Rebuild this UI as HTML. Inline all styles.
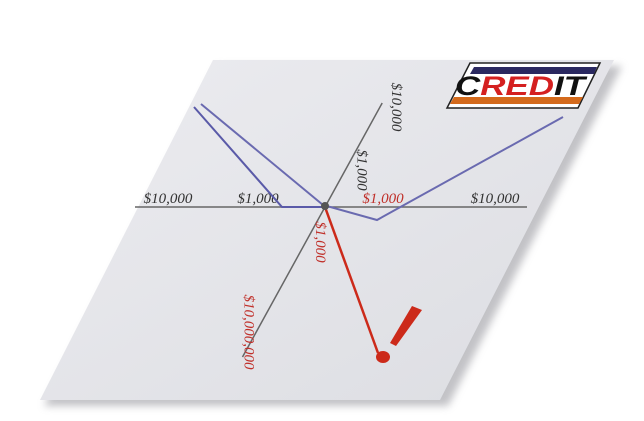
<!DOCTYPE html>
<html><head><meta charset="utf-8"><style>
html,body{margin:0;padding:0;background:#fff;width:644px;height:421px;overflow:hidden}
svg{display:block}
.lbl{font-family:"Liberation Serif",serif;font-style:italic;font-size:15px}
</style></head><body>
<svg width="644" height="421" viewBox="0 0 644 421">
<defs>
<filter id="sh" x="-10%" y="-10%" width="130%" height="130%"><feGaussianBlur stdDeviation="4"/></filter>
<linearGradient id="card" x1="0" y1="0" x2="1" y2="1"><stop offset="0" stop-color="#ececf0"/><stop offset="1" stop-color="#dcdde2"/></linearGradient>
</defs>
<polygon points="218,66 622,66 448,406 44,406" fill="#9a9aa0" opacity="0.6" filter="url(#sh)"/>
<polygon points="213,60 614,60 440,400 40,400" fill="url(#card)"/>
<g>
<polygon points="470,63 600,63 578,108 447,108" fill="#fff" stroke="#222" stroke-width="1.5"/>
<polygon points="474,67 597,67 594,74 470,74" fill="#2a2860"/>
<polygon points="454,97 583,97 579,104 450,104" fill="#d46a1c"/>
<text x="455" y="95" textLength="130" lengthAdjust="spacingAndGlyphs" font-family="Liberation Sans,sans-serif" font-weight="bold" font-style="italic" font-size="27" fill="#111">C<tspan fill="#d42020">RED</tspan>IT</text>
</g>
<g id="chart"></g>
</svg>
<script>
// axis tick labels and series (coordinates in chart units relative to origin)
const xTickLabels = ["$10,000","$1,000","$1,000","$10,000"];
const xTickPos = [-157,-67,58,170];
const xTickColors = ["#333","#333","#c0302a","#333"];
const yTickLabels = ["$10,000","$1,000","$1,000","$10,000,000"];
const yTickPos = [100,37,-35,-125];
const yTickColors = ["#333","#333","#c0302a","#c0302a"];
const yLabelDx = [12,12,10,-12];
const seriesAx = [-131,-43,-2];
const seriesAy = [100,0,0];
const seriesBx = [-124,-2,52,238];
const seriesBy = [103,2,-13,90];
const debtX = [0,53];
const debtY = [0,-146];
const ox = 325, oy = 207;
function sx(x,y){return ox + x;}
function sy(x,y){return oy - y;}
function vx(v){return ox + v*0.55;}   // vertical (skewed) axis
function vy(v){return oy - v;}
const NS="http://www.w3.org/2000/svg";
const g=document.getElementById('chart');
function mk(t,a){const e=document.createElementNS(NS,t);for(const k in a)e.setAttribute(k,a[k]);g.appendChild(e);return e;}
let e;
e=mk('line',{x1:135,y1:oy,x2:527,y2:oy,stroke:'#666','stroke-width':1.5});


e=mk('line',{x1:vx(104),y1:vy(104),x2:vx(-150),y2:vy(-150),stroke:'#666','stroke-width':1.5});


xTickLabels.forEach((t,i)=>{
  e=mk('text',{x:ox+xTickPos[i],y:oy-4,'text-anchor':'middle','class':'lbl',fill:xTickColors[i]});
  e.textContent=t;
  
  
});
yTickLabels.forEach((t,i)=>{
  const cx=vx(yTickPos[i])+yLabelDx[i], cy=vy(yTickPos[i]);
  e=mk('text',{x:cx,y:cy,'text-anchor':'middle','class':'lbl',fill:yTickColors[i],transform:`rotate(90 ${cx} ${cy})`});
  e.textContent=t;
  
  
});
function path(xs,ys,color,w,name){
  const d=xs.map((x,i)=>(i?'L':'M')+sx(x,ys[i])+','+sy(x,ys[i])).join(' ');
  const p=mk('path',{d:d,fill:'none',stroke:color,'stroke-width':w});
  
  
}
path(seriesAx,seriesAy,'#5a5aa8',2,'series-a-line');
path(seriesBx,seriesBy,'#6a6ab0',2,'series-b-line');
path(debtX,debtY,'#cc2a1a',2.5,'debt-line');
e=mk('circle',{cx:ox,cy:oy-1,r:4,fill:'#555'});


e=mk('polygon',{points:'412,306 422,310 396,346 390,343',fill:'#cc2a1a'});


e=mk('ellipse',{cx:383,cy:357,rx:7,ry:6,fill:'#cc2a1a'});


</script>
</body></html>
